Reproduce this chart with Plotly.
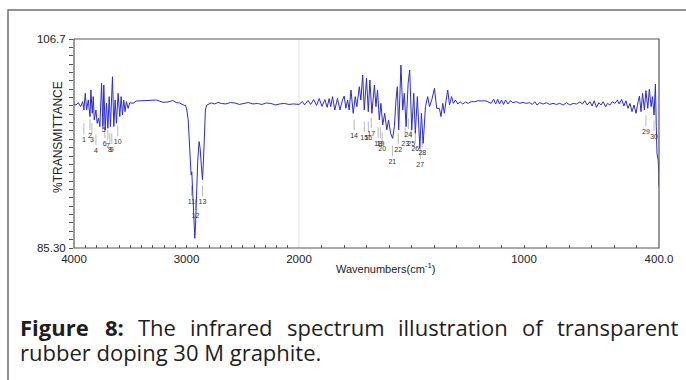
import plotly.graph_objects as go

# ---------------- data ----------------
# 4000-2000 cm-1 part of the spectrum
wn_hi = [4000, 3982, 3962, 3941, 3923, 3912, 3900, 3888, 3873, 3858, 3850, 3838, 3829, 3820,
         3805, 3794, 3782, 3770, 3755, 3743, 3735, 3723, 3711, 3699, 3687, 3676, 3658, 3646,
         3634, 3623, 3608, 3593, 3581, 3569, 3558, 3546, 3534, 3519, 3504, 3475, 3446, 3386,
         3327, 3268, 3209, 3165, 3121, 3092, 3062, 3032, 3018, 3009, 2997, 2985, 2976, 2968,
         2962, 2959, 2953, 2950, 2941, 2932, 2926, 2920, 2911, 2900, 2888, 2879, 2867, 2858,
         2849, 2841, 2832, 2820, 2796, 2780, 2750, 2720, 2690, 2650, 2610, 2570, 2530, 2490,
         2450, 2410, 2370, 2330, 2290, 2250, 2210, 2170, 2130, 2090, 2050, 2000]
t_hi = [100.05, 99.94, 100.18, 99.77, 100.29, 99.43, 101.14, 99.43, 100.46, 98.75, 101.48, 99.09,
        100.8, 98.41, 99.43, 98.07, 98.58, 97.73, 102.16, 97.73, 101.99, 97.39, 100.12, 97.56,
        100.8, 97.73, 102.84, 97.73, 100.46, 98.07, 101.14, 98.75, 100.8, 98.92, 100.46, 99.26,
        100.29, 99.6, 100.18, 100.12, 100.35, 100.4, 100.42, 100.45, 100.22, 100.25, 100.4,
        100.2, 100.15, 100.0, 99.9, 99.94, 99.43, 98.41, 96.7, 94.66, 93.3, 92.8, 93.1, 92.44,
        90.2, 87.5, 86.3, 87.5, 90.9, 94.3, 96.2, 95.5, 93.6, 92.3, 94.3, 97.7, 99.43, 99.94,
        100.1, 100.15, 100.05, 100.2, 100.1, 100.05, 100.2, 100.15, 100.0, 100.1, 100.2, 100.05,
        100.1, 100.0, 100.15, 100.1, 99.95, 100.05, 100.1, 100.0, 100.05, 100.0]

# 2000-400 cm-1 part of the spectrum (drawn at double scale)
wn_lo = [2000, 1985, 1975, 1960, 1948, 1935, 1922, 1910, 1898, 1885, 1875, 1866, 1859, 1851,
         1841, 1829, 1818, 1807, 1799, 1792, 1784, 1777, 1769, 1759, 1750, 1743, 1732, 1725,
         1717, 1710, 1700, 1692, 1685, 1676, 1665, 1658, 1651, 1643, 1636, 1628, 1619, 1610,
         1602, 1593, 1584, 1576, 1569, 1563, 1557, 1547, 1539, 1532, 1524, 1515, 1508, 1499,
         1490, 1483, 1474, 1463, 1456, 1448, 1438, 1428, 1420, 1410, 1398, 1388, 1376, 1369,
         1361, 1354, 1346, 1339, 1331, 1322, 1314, 1305, 1294, 1284, 1272, 1260, 1248, 1235,
         1220, 1205, 1190, 1175, 1161, 1146, 1135, 1126, 1117, 1109, 1100, 1091, 1082, 1071,
         1061, 1049, 1034, 1019, 1004, 990, 975, 963, 952, 942, 930, 915, 901, 886, 871, 856,
         841, 826, 811, 796, 782, 767, 752, 740, 730, 719, 707, 697, 688, 678, 667, 658, 648,
         637, 629, 618, 608, 596, 585, 577, 566, 556, 547, 538, 529, 520, 511, 502, 493, 487,
         480, 473, 465, 458, 450, 443, 435, 429, 422, 416, 412, 409, 404, 401, 400]
t_lo = [100.0, 100.3, 99.95, 100.4, 100.0, 100.5, 99.9, 100.6, 99.8, 100.5, 99.7, 100.6, 99.77,
        100.8, 99.43, 100.62, 99.43, 100.45, 100.86, 99.6, 100.45, 99.43, 101.48, 99.09, 100.8,
        99.77, 101.82, 100.45, 103.01, 99.43, 102.67, 99.26, 102.5, 99.09, 101.99, 99.77,
        101.48, 98.41, 100.11, 97.9, 99.09, 97.39, 98.41, 97.05, 96.53, 97.73, 100.45, 101.82,
        97.39, 104.03, 99.43, 101.14, 97.73, 102.16, 103.52, 97.39, 101.14, 97.05, 100.8, 95.5,
        99.09, 96.02, 99.77, 100.8, 99.77, 100.45, 101.65, 99.6, 99.6, 98.75, 100.11, 99.09,
        100.45, 101.48, 99.94, 100.8, 100.11, 100.45, 100.04, 100.28, 100.04, 100.25, 100.11,
        100.28, 100.28, 100.38, 100.35, 100.38, 100.28, 100.11, 100.52, 100.04, 100.52, 100.04,
        100.45, 100.0, 100.45, 100.04, 100.38, 100.18, 100.28, 100.11, 100.21, 100.11, 100.18,
        100.0, 100.28, 99.94, 100.18, 100.04, 100.18, 100.0, 100.11, 100.0, 100.11, 99.94,
        100.18, 99.94, 100.11, 100.04, 100.25, 100.04, 100.38, 99.94, 100.28, 99.84, 100.38,
        99.7, 100.18, 99.94, 100.28, 99.77, 100.11, 99.94, 100.28, 100.11, 100.45, 100.04,
        100.52, 99.84, 100.38, 99.6, 100.11, 99.26, 99.94, 99.09, 100.28, 100.86, 99.26, 101.14,
        99.43, 101.41, 99.6, 101.55, 99.77, 100.8, 98.92, 102.09, 97.73, 95.0, 94.3, 93.3, 91.6]

# numbered peak marks
peak_labels = ["1", "2", "3", "4", "5", "6", "7", "8", "9", "10", "11", "12", "13", "14", "15",
               "16", "17", "18", "19", "20", "21", "22", "23", "24", "25", "26", "27", "28",
               "29", "30"]
peak_wn = [3912, 3858, 3841, 3805, 3735, 3726, 3699, 3681, 3664, 3611, 2956, 2920, 2858,
           1755, 1710, 1692, 1679, 1648, 1638, 1630, 1585, 1559, 1528, 1514, 1501, 1483, 1461,
           1452, 458, 422]
peak_label_t = [96.36, 96.77, 96.36, 95.23, 97.38, 95.95, 95.74, 95.33, 95.33, 96.15, 90.0,
                88.6, 90.0, 96.77, 96.56, 96.56, 96.97, 95.95, 95.95, 95.44, 94.1, 95.33, 95.95,
                96.87, 95.95, 95.44, 93.8, 95.03, 97.18, 96.66]

x_ticks_hi = [4000, 3000]
x_ticks_lo = [2000, 1000, 400]
x_tick_text_hi = ["4000", "3000"]
x_tick_text_lo = ["2000", "1000", "400.0"]
y_min, y_max = 85.3, 106.7
y_tick_text_min, y_tick_text_max = "85.30", "106.7"

caption_line1 = [("Figure", True), ("8:", True), ("The", False), ("infrared", False),
                 ("spectrum", False), ("illustration", False), ("of", False),
                 ("transparent", False)]
caption_line2 = ["rubber", "doping", "30", "M", "graphite."]

# ---------------- figure ----------------
W, H = 686, 380
ML, MR, MT, MB = 74, 27, 39, 132
PW, PH = W - ML - MR, H - MT - MB
SPLIT = 2000
# below 2000 cm-1 the axis runs at twice the scale
split_frac = (4000 - SPLIT) / ((4000 - SPLIT) + 2 * (SPLIT - 400))

BLUE = "#2c2cd2"
FONT = "Liberation Sans"


def px(xp):
    return (xp - ML) / PW


def py(yp):
    return (H - MB - yp) / PH


fig = go.Figure()

for axis_name, keep in (("x", lambda w: w >= SPLIT), ("x2", lambda w: w < SPLIT)):
    idx = [i for i, w in enumerate(peak_wn) if keep(w)]
    lx, ly = [], []
    for i in idx:
        lx += [peak_wn[i], peak_wn[i], None]
        ly += [peak_label_t[i] + 0.6, peak_label_t[i] + 1.7, None]
    fig.add_trace(go.Scatter(x=lx, y=ly, mode="lines", line=dict(color="#b8b8b8", width=1),
                             xaxis=axis_name, yaxis="y", hoverinfo="skip", showlegend=False))
    fig.add_trace(go.Scatter(x=[peak_wn[i] for i in idx], y=[peak_label_t[i] for i in idx],
                             text=[peak_labels[i] for i in idx], mode="text",
                             textfont=dict(family=FONT, size=7, color="#333333"),
                             xaxis=axis_name, yaxis="y", hoverinfo="skip", showlegend=False))

fig.add_trace(go.Scatter(x=wn_hi, y=t_hi, mode="lines", line=dict(color=BLUE, width=1),
                         xaxis="x", yaxis="y", hoverinfo="skip", showlegend=False))
fig.add_trace(go.Scatter(x=wn_lo, y=t_lo, mode="lines", line=dict(color=BLUE, width=1),
                         xaxis="x2", yaxis="y", hoverinfo="skip", showlegend=False))

tickfont = dict(family=FONT, size=11.5, color="#222222")
x_common = dict(showgrid=False, zeroline=False, showline=False, ticks="inside", ticklen=3,
                tickcolor="#555555", tickfont=tickfont, tickmode="array", anchor="y",
                ticklabelstandoff=2)


def tick_lists(lo, hi, labelled, texts):
    vals = list(range(hi, lo - 1, -100))
    txt = [texts[labelled.index(v)] if v in labelled else "" for v in vals]
    return vals, txt


hv, ht = tick_lists(SPLIT, 4000, x_ticks_hi, x_tick_text_hi)
lv, lt = tick_lists(400, SPLIT, x_ticks_lo, x_tick_text_lo)
ht[-1] = ""  # 2000 is labelled by the lower axis

n_y = 25
y_vals = [y_min + i * (y_max - y_min) / n_y for i in range(n_y + 1)]
y_text = [""] * (n_y + 1)
y_text[0], y_text[-1] = y_tick_text_min, y_tick_text_max

fig.update_layout(
    width=W, height=H, margin=dict(l=ML, r=MR, t=MT, b=MB),
    paper_bgcolor="white", plot_bgcolor="white", showlegend=False,
    xaxis=dict(domain=[0, split_frac], range=[4000, SPLIT], tickvals=hv, ticktext=ht, **x_common),
    xaxis2=dict(domain=[split_frac, 1], range=[SPLIT, 400], tickvals=lv, ticktext=lt, **x_common),
    yaxis=dict(range=[y_min, y_max], tickmode="array", tickvals=y_vals, ticktext=y_text,
               ticks="outside", ticklen=4, tickcolor="#555555", tickfont=tickfont,
               showgrid=False, zeroline=False, showline=False, ticklabelstandoff=1),
    font=dict(family=FONT, color="#222222"),
)

shapes = [
    # outer figure box
    dict(type="rect", xref="paper", yref="paper", x0=px(8), x1=px(700), y0=py(400), y1=py(10),
         line=dict(color="#6f6f6f", width=1.5), fillcolor="rgba(0,0,0,0)", layer="below"),
    # faint divider at the scale change
    dict(type="line", xref="paper", yref="paper", x0=split_frac, x1=split_frac, y0=0, y1=1,
         line=dict(color="#e2e2e2", width=1), layer="below"),
    # plot frame
    dict(type="rect", xref="paper", yref="paper", x0=0, x1=1, y0=0, y1=1,
         line=dict(color="#555555", width=1.2), fillcolor="rgba(0,0,0,0)", layer="above"),
]

annotations = [
    dict(text="%TRANSMITTANCE", xref="paper", yref="paper", x=px(57.5), y=py(137.5),
         textangle=-90, showarrow=False, font=dict(family=FONT, size=12, color="#222222"),
         xanchor="center", yanchor="middle"),
    dict(text="Wavenumbers(cm<sup>-1</sup>)", xref="paper", yref="paper", x=px(385), y=py(268),
         showarrow=False, font=dict(family=FONT, size=11, color="#222222"),
         xanchor="center", yanchor="middle"),
]

# ---- caption: first line justified between the two text margins ----
CAP_FONT = "Open Sans"
CAP_SIZE = 22
CAP_COLOR = "#1e1e1e"
LEFT_EDGE, RIGHT_EDGE = 17.5, 676
# approximate Open Sans advance widths (em)
REG = dict(T=.56, h=.614, e=.561, i=.253, n=.614, f=.339, r=.408, a=.556, d=.613, s=.477,
           p=.613, c=.476, t=.353, u=.614, m=.930, l=.253, o=.604, g=.545)
BOLD = {"F": .58, "i": .31, "g": .59, "u": .68, "r": .47, "e": .61, "8": .59, ":": .30}


def word_width(word, bold):
    table = BOLD if bold else REG
    return sum(table.get(ch, .55) for ch in word) * CAP_SIZE


widths = [word_width(w, b) for w, b in caption_line1]
gap = (RIGHT_EDGE - LEFT_EDGE - sum(widths)) / (len(widths) - 1)
xcur = LEFT_EDGE
for (word, bold), wd in zip(caption_line1, widths):
    txt = "<b>%s</b>" % word if bold else word
    annotations.append(dict(text=txt, xref="paper", yref="paper", x=px(xcur), y=py(327),
                            showarrow=False, xanchor="left", yanchor="middle",
                            font=dict(family=CAP_FONT, size=CAP_SIZE, color=CAP_COLOR)))
    xcur += wd + gap

annotations.append(dict(text=" ".join(caption_line2), xref="paper", yref="paper",
                        x=px(LEFT_EDGE), y=py(352), showarrow=False, xanchor="left",
                        yanchor="middle",
                        font=dict(family=CAP_FONT, size=CAP_SIZE, color=CAP_COLOR)))

fig.update_layout(shapes=shapes, annotations=annotations)
fig.write_html("out.html")
